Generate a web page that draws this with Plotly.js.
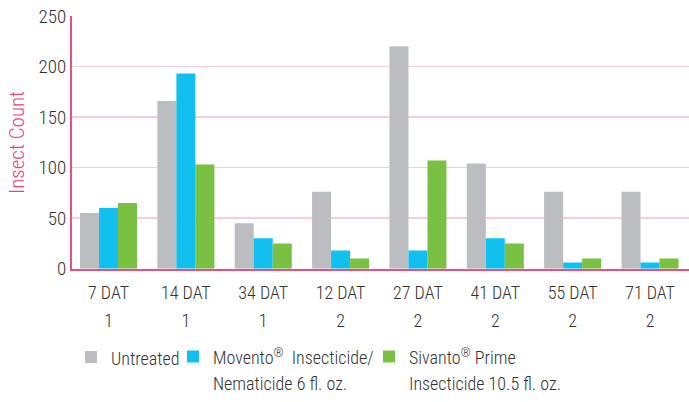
<!DOCTYPE html>
<html><head><meta charset="utf-8">
<script src="https://cdn.plot.ly/plotly-3.0.1.min.js"></script>
<style>html,body{margin:0;padding:0;background:#fff}#chart{width:689px;height:402px}</style>
</head><body><div id="chart"></div>
<script>
var categories = ["7 DAT|1","14 DAT|1","34 DAT|1","12 DAT|2","27 DAT|2","41 DAT|2","55 DAT|2","71 DAT|2"];
var untreated = [55,166,45,76,220,104,76,76];
var movento = [60,193,30,18,18,30,6,6];
var sivanto = [65,103,25,10,107,25,10,10];
var seriesNames = ["Untreated","Movento<sup>®</sup>  Insecticide/|Nematicide 6 fl. oz.","Sivanto<sup>®</sup> Prime|Insecticide 10.5 fl. oz."];
var FONT = "'Roboto Condensed', Roboto, sans-serif";
function lines(s){ return s.split('|').map(function(p){return '<span style="font-size:18px">'+p+'</span>';}).join('<br>'); }
var tickText = categories.map(lines);
var legendNames = seriesNames.map(lines);
var colors = ['#bcbdc0','#12c0f0','#7ac043'];
var values = [untreated, movento, sivanto];
var legendIds = ['legend','legend2','legend3'];
var traces = values.map(function(v,i){
  return {type:'bar', x:categories, y:v, name:legendNames[i], legend:legendIds[i],
          marker:{color:colors[i]}};
});
function leg(px){
  return {orientation:'h', x:(px-72)/617, xanchor:'left', y:0.163, yanchor:'top', valign:'top',
          font:{family:FONT, size:20, color:'#333', weight:300}, itemwidth:30, bgcolor:'rgba(0,0,0,0)'};
}
var layout = {
  width:689, height:402,
  margin:{l:72, r:0, t:16, b:0},
  paper_bgcolor:'#fff', plot_bgcolor:'#fff',
  font:{family:FONT, size:18, color:'#333', weight:300},
  barmode:'group', bargap:0.263, bargroupgap:0,
  showlegend:true,
  legend:leg(71), legend2:leg(173), legend3:leg(369),
  xaxis:{showline:true, linecolor:'#e8507f', linewidth:2.5, ticks:'', showgrid:false,
         range:[-0.472, 7.504], tickmode:'array', tickvals:categories, ticktext:tickText,
         ticklabelstandoff:3,
         tickfont:{family:FONT, size:21, color:'#333', weight:300}, fixedrange:true},
  yaxis:{domain:[0.342,1], range:[0,250], dtick:50, showline:true, linecolor:'#e8507f', linewidth:2,
         gridcolor:'#f7cddc', gridwidth:1.5, zeroline:false, ticks:'',
         tickfont:{family:FONT, size:19, color:'#333', weight:300},
         title:{text:'Insect Count', font:{family:FONT, size:21, color:'#e8457a', weight:300}, standoff:8},
         fixedrange:true}
};
Plotly.newPlot('chart', traces, layout, {displayModeBar:false, staticPlot:true});
</script></body></html>
